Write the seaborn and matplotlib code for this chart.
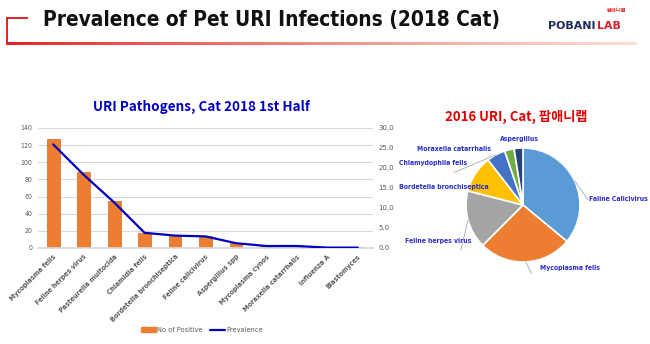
import numpy as np
import matplotlib
matplotlib.use("Agg")
import matplotlib.pyplot as plt
from matplotlib.collections import LineCollection
from matplotlib.lines import Line2D
from matplotlib.patches import Patch
import seaborn as sns

# ---------------- data ----------------
categories = ['Mycoplasma felis', 'Feline herpes virus', 'Pasteurella multocida',
              'Chlamidia felis', 'Bordetella bronchiseptica', 'Feline calicivirus',
              'Aspergillus spp', 'Mycoplasma cynos', 'Moraxella catarrhalis',
              'Influenza A', 'Blastomyces']
positives = [127, 89, 55, 18, 15, 14, 6, 2, 2, 0, 1]
prevalence = [25.9, 18.3, 11.4, 3.8, 3.1, 2.9, 1.2, 0.5, 0.5, 0.1, 0.1]
left_ticks = [0, 20, 40, 60, 80, 100, 120, 140]
right_ticks = [0, 5, 10, 15, 20, 25, 30]

pie_labels = ['Faline Calicivirus', 'Mycoplasma felis', 'Feline herpes virus',
              'Bordetella bronchiseptica', 'Chlamydophila felis',
              'Moraxella catarrhalis', 'Aspergillus']
pie_values = [36.0, 26.5, 16.5, 10.5, 5.3, 2.7, 2.5]
pie_colors = ['#5B9BD5', '#ED7D31', '#A5A5A5', '#FFC000', '#4472C4', '#70AD47', '#264478']

sns.set_theme(style='white')
plt.rcParams['font.family'] = ['DejaVu Sans']

W, H = 650, 344
fig = plt.figure(figsize=(W / 100, H / 100), dpi=100)
renderer = fig.canvas.get_renderer()


def fx(px):
    return px / W


def fy(py):
    return 1 - py / H


NARROW = dict(family=['DejaVu Sans'], fontstretch='condensed')


def text_width(s, size, **kw):
    t = fig.text(0, 0, s, fontsize=size, **kw)
    w = t.get_window_extent(renderer).width
    t.remove()
    return w


def fit_size(s, target_px, **kw):
    return 10 * target_px / text_width(s, 10, **kw)


# ---------------- header ----------------
title = 'Prevalence of Pet URI Infections (2018 Cat)'
fs = fit_size(title, 455, fontweight='bold', **NARROW)
fig.text(fx(43), fy(26), title, fontsize=fs, fontweight='bold', color='#111111',
         ha='left', va='baseline', **NARROW)

logo_kw = dict(fontweight='bold', family=['DejaVu Sans'])
fs_logo = fit_size('POBANI', 48, **logo_kw)
t1 = fig.text(fx(548), fy(29), 'POBANI', fontsize=fs_logo, color='#1F2A5C',
              ha='left', va='baseline', **logo_kw)
bb = t1.get_window_extent(renderer)
fig.text(bb.x1 / W + fx(1), fy(29), 'LAB', fontsize=fs_logo, color='#D42028',
         ha='left', va='baseline', **logo_kw)
fig.text(fx(617), fy(10), '팝애니랩', family=['Noto Sans CJK KR'], fontsize=3.8,
         fontweight='bold', color='#E8262A', ha='center', va='center')

# red bracket line with gradient
fig.add_artist(Line2D([fx(7), fx(27)], [fy(18), fy(18)], color='#E02020', lw=1.4,
                      solid_capstyle='projecting'))
fig.add_artist(Line2D([fx(7), fx(7)], [fy(18), fy(43)], color='#E02020', lw=1.4,
                      solid_capstyle='projecting'))
xs = np.linspace(fx(7), fx(635), 90)
segs = [[(xs[i], fy(43)), (xs[i + 1], fy(43))] for i in range(len(xs) - 1)]
t = np.linspace(0, 1, len(segs)) ** 0.8
red = np.array([0.89, 0.12, 0.13])
peach = np.array([0.98, 0.87, 0.83])
cols = [tuple(red * (1 - v) + peach * v) for v in t]
fig.add_artist(LineCollection(segs, colors=cols, linewidths=1.8, capstyle='projecting',
                              antialiased=False, transform=fig.transFigure))

# ---------------- bar + line chart ----------------
ax = fig.add_axes([fx(38), fy(248), fx(373) - fx(38), (248 - 128) / H])
sns.barplot(x=categories, y=positives, color='#ED7D31', width=0.42,
            edgecolor='#D46A1F', linewidth=0.5, saturation=1, ax=ax, zorder=2)
ax.set_xlim(-0.5, len(categories) - 0.5)
ax.set_ylim(0, 140)
ax.set_yticks(left_ticks)
ax.yaxis.grid(True, color='#D9D9D9', lw=0.8)
ax.set_axisbelow(True)
for s in ['top', 'right', 'left']:
    ax.spines[s].set_visible(False)
ax.spines['bottom'].set_color('#D9D9D9')
ax.tick_params(axis='both', length=0, labelsize=5, colors='#595959', pad=4)
xt_fs = fit_size(categories[0], 62, fontweight='bold', **NARROW)
ax.set_xticks(range(len(categories)))
ax.set_xticklabels(categories, rotation=45, ha='right', rotation_mode='anchor',
                   fontsize=xt_fs, fontweight='bold', color='#595959', **NARROW)
for lab in ax.get_yticklabels():
    lab.set_fontstretch('condensed')
ax.set_xlabel('')
ax.set_ylabel('')

ax2 = ax.twinx()
sns.lineplot(x=np.arange(len(categories)), y=prevalence, color='#0000C0',
             lw=1.6, ax=ax2, zorder=3)
ax2.set_ylim(0, 30)
ax2.set_yticks(right_ticks)
ax2.set_yticklabels([f'{v:.1f}' for v in right_ticks])
ax2.tick_params(axis='y', length=0, labelsize=5, colors='#595959', pad=4)
for s in ['top', 'right', 'left', 'bottom']:
    ax2.spines[s].set_visible(False)
ax2.grid(False)
ax2.set_ylabel('')

fig.text(fx(201), fy(107), 'URI Pathogens, Cat 2018 1st Half',
         family=['Noto Sans CJK KR', 'DejaVu Sans'], fontsize=9.7, fontweight='bold',
         color='#0000C0', ha='center', va='center')

handles = [Patch(facecolor='#ED7D31', edgecolor='#ED7D31'),
           Line2D([0], [0], color='#0000C0', lw=1.6)]
leg = fig.legend(handles, ['No of Positive', 'Prevalence'], loc='center',
                 bbox_to_anchor=(fx(202), fy(330)), ncol=2, frameon=False,
                 fontsize=5.3, labelcolor='#595959', handlelength=2.0, handleheight=0.8,
                 columnspacing=1.0, handletextpad=0.2)
for txt in leg.get_texts():
    txt.set_fontstretch('condensed')

# ---------------- pie chart ----------------
cx, cy, r = 523, 205, 57
axp = fig.add_axes([fx(cx - r), fy(cy + r), 2 * r / W, 2 * r / H])
wedges, _ = axp.pie(pie_values, colors=pie_colors, startangle=90, counterclock=False,
                    radius=1, wedgeprops=dict(edgecolor='white', linewidth=1.2))
axp.set_xlim(-1, 1)
axp.set_ylim(-1, 1)
axp.axis('off')

pie_fs = fit_size(pie_labels[3], 90, fontweight='bold', **NARROW)
# label layout: (text x, text y, ha, leader end or None) in pie radius units
label_layout = [
    (1.165, 0.105, 'left', (1.14, 0.09)),
    (0.30, -1.105, 'left', (0.15, -1.20)),
    (-0.90, -0.632, 'right', (-1.09, -0.79)),
    (-0.60, 0.316, 'right', None),
    (-0.98, 0.737, 'right', (-1.21, 0.57)),
    (-0.56, 0.988, 'right', None),
    (-0.07, 1.158, 'center', None),
]
for w, lab, (tx, ty, ha, lead) in zip(wedges, pie_labels, label_layout):
    ang = np.deg2rad((w.theta1 + w.theta2) / 2)
    ex, ey = np.cos(ang), np.sin(ang)
    axp.text(tx, ty, lab, ha=ha, va='center', fontsize=pie_fs,
             fontweight='bold', color='#2B2BCC', clip_on=False, **NARROW)
    if lead is not None:
        axp.plot([ex, lead[0]], [ey, lead[1]], color='#A6A6A6', lw=0.6, clip_on=False)

fig.text(fx(516), fy(117), '2016 URI, Cat, 팝애니랩',
         family=['Noto Sans CJK KR', 'DejaVu Sans'], fontsize=9.5, fontweight='bold',
         color='#E00000', ha='center', va='center')

fig.savefig('out.png', dpi=100)
